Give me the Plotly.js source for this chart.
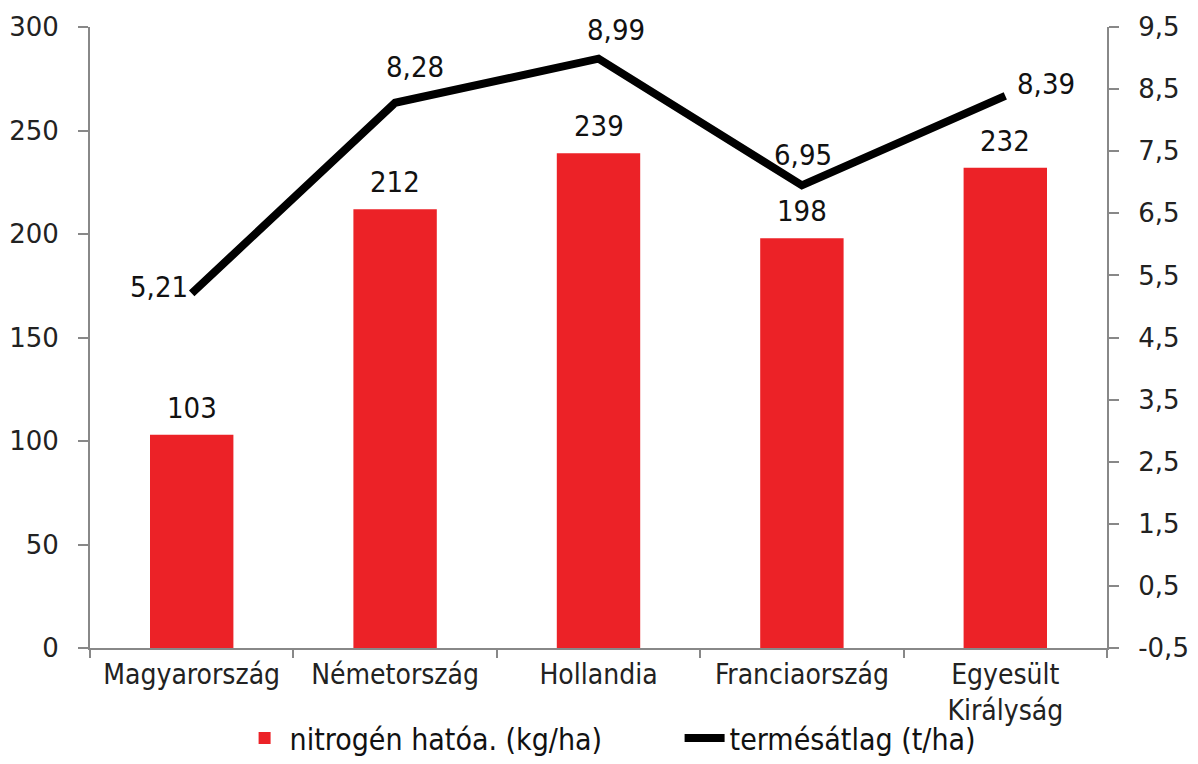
<!DOCTYPE html>
<html>
<head>
<meta charset="utf-8">
<script src="https://cdn.plot.ly/plotly-3.0.1.min.js"></script>
<style>html,body{margin:0;padding:0;background:#fff;}#chart{width:1198px;height:764px;}</style>
</head>
<body>
<div id="chart"></div>
<script>
const categories = ["Magyarország", "Németország", "Hollandia", "Franciaország", "Egyesült<br>Királyság"];
const nitrogen = [103, 212, 239, 198, 232];
const yieldAvg = [5.21, 8.28, 8.99, 6.95, 8.39];
const nitrogenLabels = ["103", "212", "239", "198", "232"];
const yieldLabels = ["5,21", "8,28", "8,99", "6,95", "8,39"];
const leftTicks = [0, 50, 100, 150, 200, 250, 300];
const rightTicks = [-0.5, 0.5, 1.5, 2.5, 3.5, 4.5, 5.5, 6.5, 7.5, 8.5, 9.5];
const rightTickLabels = ["-0,5", "0,5", "1,5", "2,5", "3,5", "4,5", "5,5", "6,5", "7,5", "8,5", "9,5"];

// label placement styles for the line labels (pixel offsets, anchors)
const lineLabelXAnchor = ["right", "center", "center", "center", "left"];
const lineLabelXShift = [-2, 20, 17, 1, 10];
const lineLabelYShift = [6, 36, 29, 30, 12];

const condensed = "DejaVu Sans Condensed, DejaVu Sans, sans-serif";
const regular = "DejaVu Sans, Verdana, sans-serif";
const labelFont = {family: condensed, size: 29, color: "#111"};

const traces = [
  {
    type: "bar",
    name: "nitrogén hatóa. (kg/ha)",
    x: categories,
    y: nitrogen,
    marker: {color: "#ec2227"},
    width: 0.41
  },
  {
    type: "scatter",
    mode: "lines",
    name: "termésátlag (t/ha)",
    x: categories,
    y: yieldAvg,
    yaxis: "y2",
    line: {color: "#000", width: 8}
  }
];

const annotations = [];
categories.forEach((c, i) => {
  annotations.push({
    x: c, y: nitrogen[i], xref: "x", yref: "y",
    text: nitrogenLabels[i], showarrow: false,
    xanchor: "center", yanchor: "bottom", yshift: 8,
    font: labelFont
  });
  annotations.push({
    x: c, y: yieldAvg[i], xref: "x", yref: "y2",
    text: yieldLabels[i], showarrow: false,
    xanchor: lineLabelXAnchor[i], yanchor: "middle",
    xshift: lineLabelXShift[i], yshift: lineLabelYShift[i],
    font: labelFont
  });
});

const layout = {
  width: 1198,
  height: 764,
  margin: {l: 90, r: 91, t: 27, b: 116},
  paper_bgcolor: "#fff",
  plot_bgcolor: "#fff",
  showlegend: true,
  font: {family: regular, size: 26, color: "#111"},
  annotations: annotations,
  xaxis: {
    type: "category",
    showline: true,
    linecolor: "#888",
    linewidth: 2,
    ticks: "outside",
    tickson: "boundaries",
    ticklen: 8,
    tickcolor: "#888",
    tickwidth: 2,
    showgrid: false,
    tickfont: {family: condensed, size: 28, color: "#222"},
    tickangle: 0
  },
  yaxis: {
    range: [0, 300],
    tickvals: leftTicks,
    showline: true,
    linecolor: "#888",
    linewidth: 2,
    ticks: "outside",
    ticklen: 10,
    tickcolor: "#888",
    tickwidth: 2,
    ticklabelstandoff: 14,
    showgrid: false,
    zeroline: false,
    tickfont: {family: regular, size: 26, color: "#222"}
  },
  yaxis2: {
    range: [-0.5, 9.5],
    overlaying: "y",
    side: "right",
    tickvals: rightTicks,
    ticktext: rightTickLabels,
    showline: true,
    linecolor: "#888",
    linewidth: 2,
    ticks: "outside",
    ticklen: 10,
    tickcolor: "#888",
    tickwidth: 2,
    ticklabelstandoff: 14,
    showgrid: false,
    zeroline: false,
    tickfont: {family: regular, size: 26, color: "#222"}
  },
  legend: {
    orientation: "h",
    xref: "container",
    x: 0.2,
    xanchor: "left",
    yref: "container",
    y: -0.035,
    yanchor: "bottom",
    bgcolor: "rgba(0,0,0,0)",
    font: {family: condensed, size: 30, color: "#111"},
    itemwidth: 40,
    entrywidth: 385
  }
};

Plotly.newPlot("chart", traces, layout, {displayModeBar: false, staticPlot: true});
</script>
</body>
</html>
